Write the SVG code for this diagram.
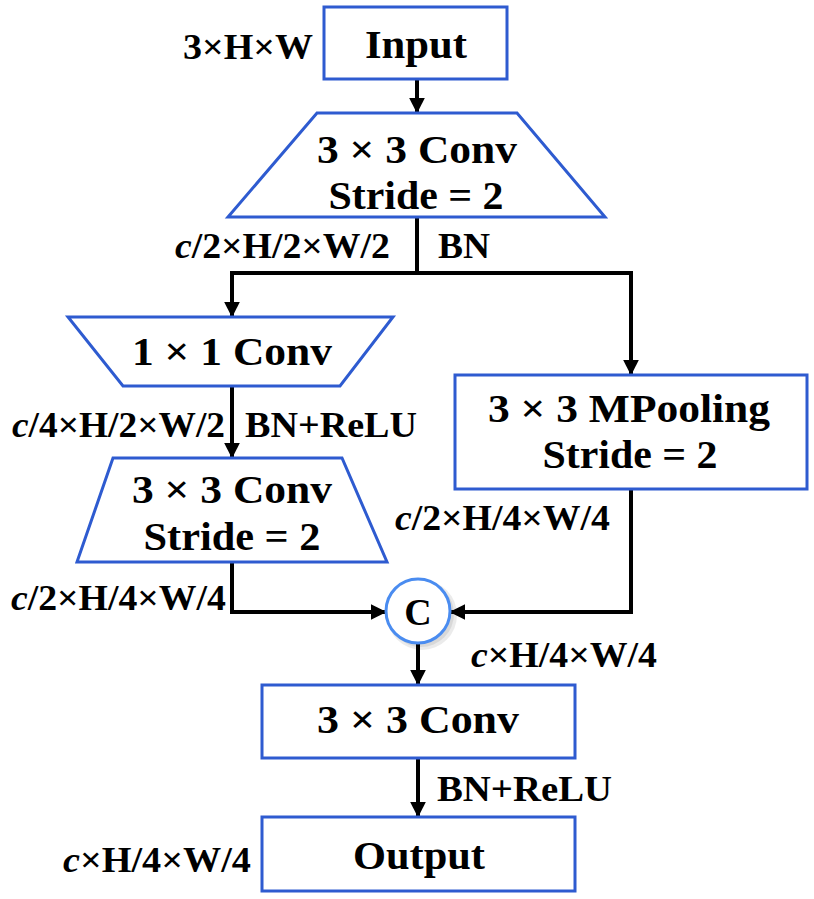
<svg xmlns="http://www.w3.org/2000/svg" width="814" height="899" viewBox="0 0 814 899">
<style>
.node{fill:#fff;stroke:#2E5BD0;stroke-width:3}
.circ{fill:#fff;stroke:#4A8CF0;stroke-width:3}
.shd{fill:#000;opacity:0.08}
.t{font-family:'Liberation Serif',serif;font-weight:bold;font-size:40px;fill:#000;text-anchor:middle}
.l{font-family:'Liberation Serif',serif;font-weight:bold;font-size:36px;fill:#000}
.i{font-style:italic}
.e{fill:none;stroke:#000;stroke-width:4}
</style>
<defs>
<marker id="ah" viewBox="0 0 10 10" refX="9" refY="5" markerWidth="4" markerHeight="4" orient="auto" markerUnits="strokeWidth">
<path d="M0,0 L10,5 L0,10 z" fill="#000"/>
</marker>
</defs>
<g id="connectors">
<line class="e" x1="417" y1="79" x2="417" y2="112" marker-end="url(#ah)"/>
<polyline class="e" points="417,217 417,273 232,273 232,316" marker-end="url(#ah)"/>
<polyline class="e" points="417,273 631,273 631,374" marker-end="url(#ah)"/>
<line class="e" x1="232" y1="386" x2="232" y2="457" marker-end="url(#ah)"/>
<polyline class="e" points="232,562 232,612 385,612" marker-end="url(#ah)"/>
<polyline class="e" points="631,489 631,612 451,612" marker-end="url(#ah)"/>
<line class="e" x1="418" y1="644" x2="418" y2="684" marker-end="url(#ah)"/>
<line class="e" x1="418" y1="758" x2="418" y2="816" marker-end="url(#ah)"/>
</g>
<g id="input">
<rect class="node" x="324" y="7" width="183" height="72"/>
<text class="t" x="416" y="58" textLength="102" lengthAdjust="spacingAndGlyphs">Input</text>
</g>
<g id="conv1">
<polygon class="node" points="317,113 517,113 605,217 228,217"/>
<text class="t" x="417" y="163" textLength="200" lengthAdjust="spacingAndGlyphs">3 × 3 Conv</text>
<text class="t" x="416" y="209" textLength="175" lengthAdjust="spacingAndGlyphs">Stride = 2</text>
</g>
<g id="conv1x1">
<polygon class="node" points="68,317 393,317 340,386 123,386"/>
<text class="t" x="232" y="365" textLength="200" lengthAdjust="spacingAndGlyphs">1 × 1 Conv</text>
</g>
<g id="conv2">
<polygon class="node" points="113,458 342,458 387,562 77,562"/>
<text class="t" x="232" y="503" textLength="200" lengthAdjust="spacingAndGlyphs">3 × 3 Conv</text>
<text class="t" x="232" y="550" textLength="177" lengthAdjust="spacingAndGlyphs">Stride = 2</text>
</g>
<g id="mpool">
<rect class="node" x="455" y="375" width="352" height="114"/>
<text class="t" x="629" y="422" textLength="282" lengthAdjust="spacingAndGlyphs">3 × 3 MPooling</text>
<text class="t" x="630" y="468" textLength="175" lengthAdjust="spacingAndGlyphs">Stride = 2</text>
</g>
<g id="concat">
<circle class="shd" cx="422" cy="615" r="35"/>
<circle class="shd" cx="421" cy="614" r="33"/>
<circle class="circ" cx="418" cy="611" r="32"/>
<text class="t" style="font-size:38px" x="418" y="625">C</text>
</g>
<g id="conv3">
<rect class="node" x="262" y="685" width="313" height="73"/>
<text class="t" x="418" y="733" textLength="202" lengthAdjust="spacingAndGlyphs">3 × 3 Conv</text>
</g>
<g id="output">
<rect class="node" x="262" y="817" width="313" height="74"/>
<text class="t" x="419" y="869" textLength="132" lengthAdjust="spacingAndGlyphs">Output</text>
</g>
<g id="labels">
<text class="l" x="183" y="59" textLength="130" lengthAdjust="spacingAndGlyphs">3×H×W</text>
<text class="l" x="175" y="258" textLength="215" lengthAdjust="spacingAndGlyphs"><tspan class="i">c</tspan>/2×H/2×W/2</text>
<text class="l" x="438" y="258" textLength="52" lengthAdjust="spacingAndGlyphs">BN</text>
<text class="l" x="12" y="437" textLength="213" lengthAdjust="spacingAndGlyphs"><tspan class="i">c</tspan>/4×H/2×W/2</text>
<text class="l" x="245" y="437" textLength="172" lengthAdjust="spacingAndGlyphs">BN+ReLU</text>
<text class="l" x="395" y="530" textLength="215" lengthAdjust="spacingAndGlyphs"><tspan class="i">c</tspan>/2×H/4×W/4</text>
<text class="l" x="11" y="610" textLength="215" lengthAdjust="spacingAndGlyphs"><tspan class="i">c</tspan>/2×H/4×W/4</text>
<text class="l" x="471" y="667" textLength="186" lengthAdjust="spacingAndGlyphs"><tspan class="i">c</tspan>×H/4×W/4</text>
<text class="l" x="437" y="801" textLength="175" lengthAdjust="spacingAndGlyphs">BN+ReLU</text>
<text class="l" x="63" y="872" textLength="188" lengthAdjust="spacingAndGlyphs"><tspan class="i">c</tspan>×H/4×W/4</text>
</g>
</svg>
